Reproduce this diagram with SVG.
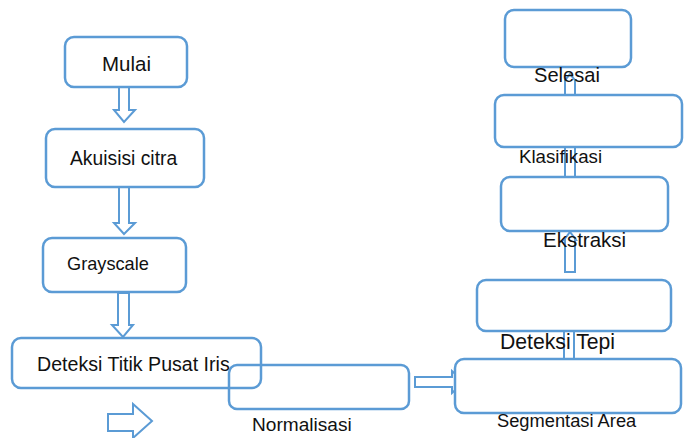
<svg xmlns="http://www.w3.org/2000/svg" width="688" height="438" viewBox="0 0 688 438">
<style>
.box{fill:#ffffff;stroke:#5b9bd5;stroke-width:2.5}
.open{fill:none;stroke:#5b9bd5;stroke-width:2.5}
.arr{fill:#ffffff;stroke:#5b9bd5;stroke-width:2;stroke-linejoin:miter}
text{font-family:"Liberation Sans",Arial,sans-serif;fill:#111111}
</style>
<rect width="688" height="438" fill="#ffffff"/>
<g id="connectors">
<polygon class="arr" points="119,87 129,87 129,110 135,110 124,122 114,110 119,110"/>
<polygon class="arr" points="119,187 129,187 129,223 135,223 124,234 114,223 119,223"/>
<polygon class="arr" points="118,293 129,293 129,325 133,325 123,337 112,325 118,325"/>
<polygon class="arr" points="108,414 133,414 133,404 152,421 133,438 133,431 108,431"/>
<polygon class="arr" points="415,377 452,377 452,371 464,382 452,393 452,387 415,387"/>
<polygon class="arr" points="564,359 564,330 562,330 569,320 576,330 574,330 574,359"/>
<polygon class="arr" points="565,272 565,240 564,240 570,232 576,240 575,240 575,272"/>
<polygon class="arr" points="565,177 565,140 563,140 570,132 577,140 575,140 575,177"/>
<polygon class="arr" points="565,95 565,80 565,80 570,74 575,80 575,80 575,95"/>
</g>
<g id="mulai">
<rect class="box" x="65" y="37" width="122" height="50" rx="9"/>
<text x="102" y="71" font-size="20.5">Mulai</text>
</g>
<g id="akuisisi">
<rect class="box" x="46" y="129" width="158" height="58" rx="9"/>
<text x="70" y="165" font-size="19.3">Akuisisi citra</text>
</g>
<g id="grayscale">
<rect class="box" x="43" y="238" width="143" height="54" rx="9"/>
<text x="67" y="270" font-size="18.2">Grayscale</text>
</g>
<g id="deteksi-titik">
<rect class="open" x="12" y="338" width="249" height="50" rx="9"/>
<text x="37" y="371" font-size="19.6">Deteksi Titik Pusat Iris</text>
</g>
<g id="normalisasi">
<rect class="open" x="229" y="365" width="180" height="44" rx="8"/>
<text x="252" y="431" font-size="19.1">Normalisasi</text>
</g>
<g id="segmentasi">
<rect class="box" x="455" y="359" width="226" height="54" rx="9"/>
<text x="497" y="427" font-size="18.3">Segmentasi Area</text>
</g>
<g id="deteksi-tepi">
<rect class="box" x="477" y="280" width="194" height="51" rx="9"/>
<text x="500" y="349" font-size="21.2">Deteksi Tepi</text>
</g>
<g id="ekstraksi">
<rect class="box" x="501" y="177" width="167" height="54" rx="9"/>
<text x="543" y="247" font-size="20.5">Ekstraksi</text>
</g>
<g id="klasifikasi">
<rect class="box" x="495" y="95" width="187" height="52" rx="9"/>
<text x="519" y="163" font-size="18.7">Klasifikasi</text>
</g>
<g id="selesai">
<rect class="box" x="505" y="10" width="126" height="57" rx="9"/>
<text x="534" y="82" font-size="20.1">Selesai</text>
</g>
</svg>
